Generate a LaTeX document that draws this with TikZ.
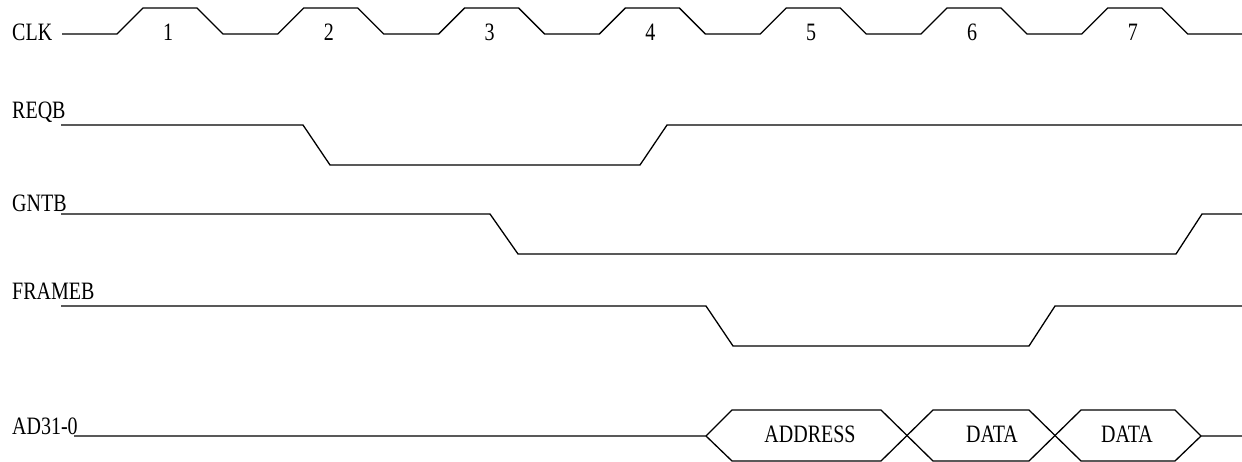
\documentclass[tikz,border=0pt]{standalone}
\usepackage{fontspec}
\setmainfont{Liberation Serif}
\usepackage{graphicx}
\newcommand{\tallt}[1]{\scalebox{1}[1.25]{#1}}
\tikzset{
  sig/.style={line width=1.3pt, line join=miter, draw=black},
  lbl/.style={anchor=base west, inner sep=0pt, font=\fontsize{20}{24}\selectfont},
  num/.style={anchor=base, inner sep=0pt, font=\fontsize{20}{24}\selectfont},
}
\begin{document}
\begin{tikzpicture}[x=1pt,y=-1pt]
\path[use as bounding box, fill=white] (0,0) rectangle (1242,462);
% CLK
\node[lbl] (clk) at (12,41) {\tallt{CLK}};
\draw[sig] (62,34) foreach \r in {117,277.8,438.6,599.4,760.2,921,1081.8} { -- (\r,34) -- ({\r+26},8) -- ({\r+80},8) -- ({\r+106},34) } -- (1242,34);
\foreach \r [count=\i] in {117,277.8,438.6,599.4,760.2,921,1081.8}
  \node[num] (n\i) at ({\r+51},41) {\tallt{\i}};
% REQB
\node[lbl] (reqb) at (12,119) {\tallt{REQB}};
\draw[sig] (61,125) -- (303,125) -- (330,165) -- (640,165) -- (667,125) -- (1242,125);
% GNTB
\node[lbl] (gntb) at (12,212) {\tallt{GNTB}};
\draw[sig] (61,214) -- (490,214) -- (518,254) -- (1176,254) -- (1202,214) -- (1242,214);
% FRAMEB
\node[lbl] (frameb) at (12,300) {\tallt{FRAMEB}};
\draw[sig] (61,306) -- (706,306) -- (733,346) -- (1029,346) -- (1055,306) -- (1242,306);
% AD31-0
\node[lbl] (ad) at (12,434) {\tallt{AD31-0}};
\draw[sig] (74,436) -- (706,436) -- (732,410) -- (881,410) -- (933,461) -- (1029,461) -- (1081,410) -- (1175,410) -- (1201,436) -- (1242,436);
\draw[sig] (706,436) -- (732,461) -- (881,461) -- (933,410) -- (1029,410) -- (1081,461) -- (1175,461) -- (1201,436);
\node[num] (addr) at (810,442) {\tallt{ADDRESS}};
\node[num] (d1) at (992,442) {\tallt{DATA}};
\node[num] (d2) at (1127,442) {\tallt{DATA}};
\end{tikzpicture}
\end{document}
